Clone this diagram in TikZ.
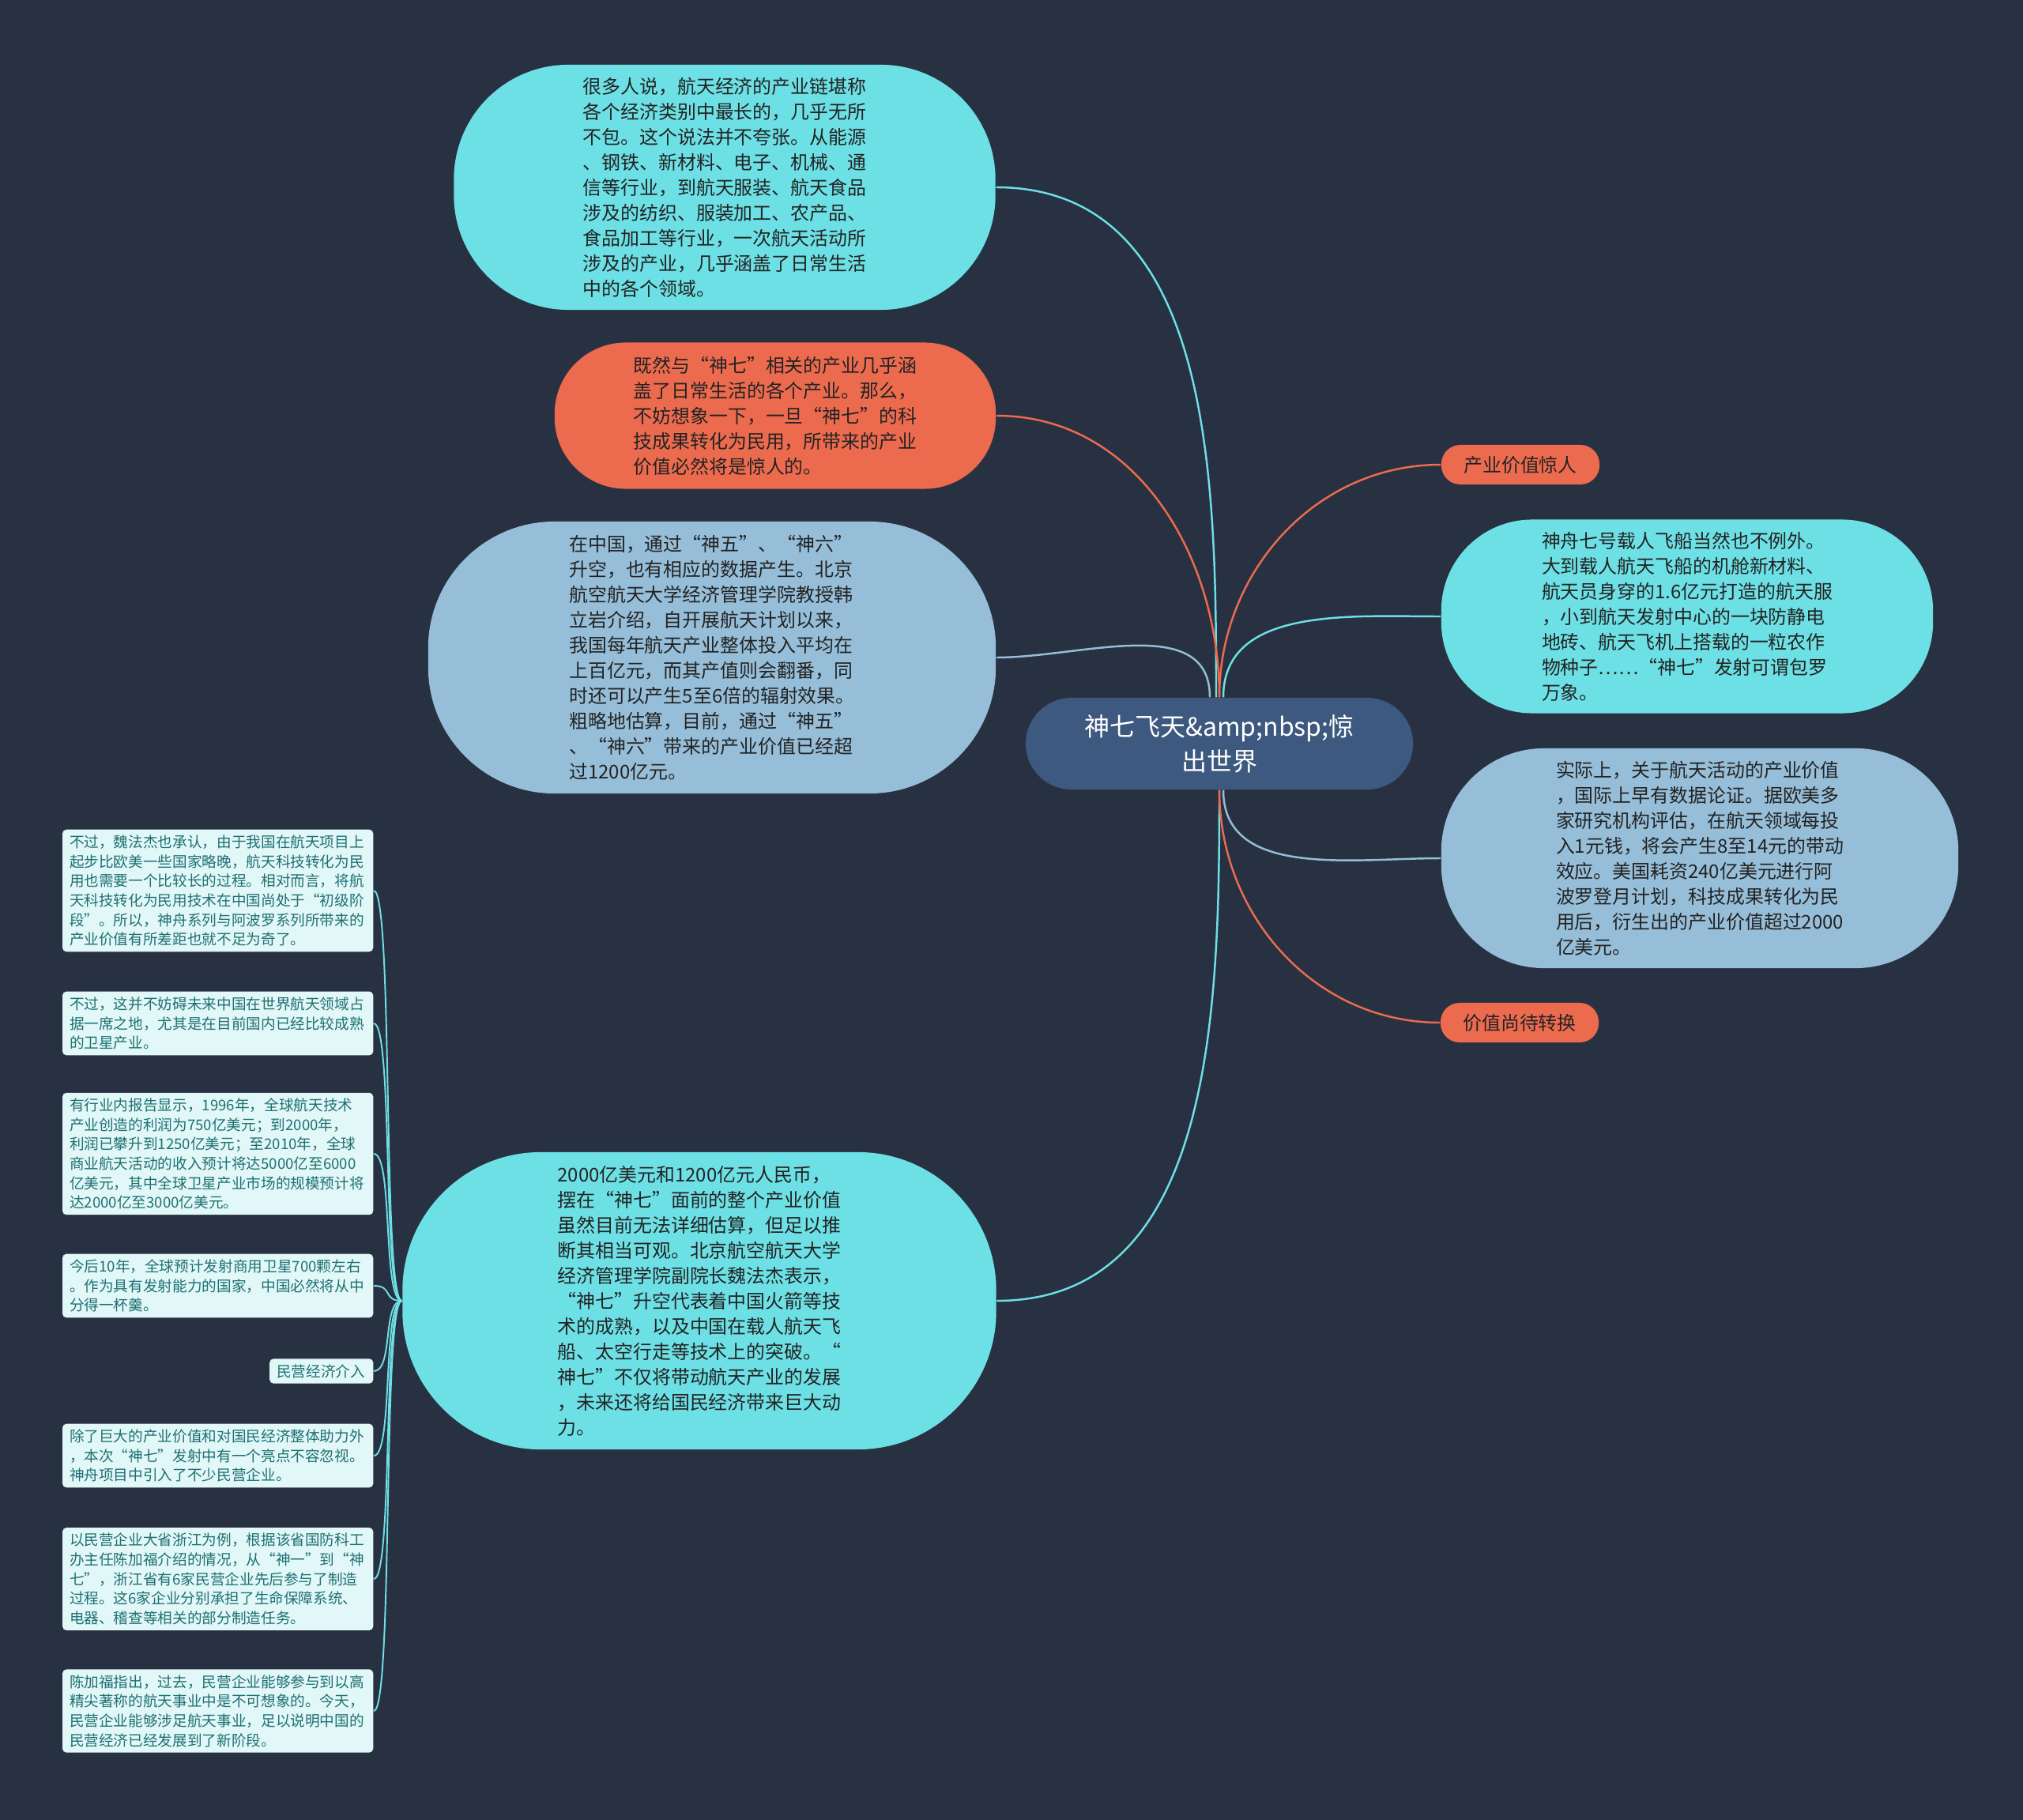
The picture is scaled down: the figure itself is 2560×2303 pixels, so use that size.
\documentclass[tikz,border=0pt]{standalone}
\usepackage{fontspec}
\setmainfont{Noto Sans CJK SC}
\usepackage{tikz}
\usetikzlibrary{positioning}
\definecolor{bg}{RGB}{40,49,65}
\definecolor{cyn}{RGB}{109,224,229}
\definecolor{org}{RGB}{236,107,79}
\definecolor{lblue}{RGB}{150,190,216}
\definecolor{rootc}{RGB}{61,89,127}
\definecolor{leaff}{RGB}{226,247,248}
\definecolor{leaft}{RGB}{30,112,114}
\definecolor{ink}{RGB}{35,35,35}
\tikzset{
  bub/.style={rounded corners=#1,inner sep=0pt,align=left,text=ink,font=\fontsize{6.8pt}{9.1pt}\selectfont},
  tag/.style={fill=org,rounded corners=0.24cm,minimum width=2cm,minimum height=0.5cm,inner sep=0pt,text=ink,font=\fontsize{6.8pt}{9.1pt}\selectfont},
  leaf/.style={fill=leaff,rounded corners=0.05cm,text=leaft,align=left,text width=3.75cm,inner xsep=0.09cm,inner ysep=0.07cm,font=\fontsize{5.3pt}{7pt}\selectfont,anchor=east},
  lnk/.style={line width=0.7pt},
  lf/.style={draw=cyn,line width=0.55pt}
}
\begin{document}
\begin{tikzpicture}[x=0.01cm,y=-0.01cm]
\fill[bg] (0,0) rectangle (2560,2303);
\node[fill=rootc,rounded corners=0.58cm,minimum width=4.9cm,minimum height=1.16cm,inner sep=0pt,text=white,align=center,font=\fontsize{9.1pt}{12.5pt}\selectfont] (root) at (1543,941) {神七飞天\&amp;nbsp;惊\\出世界};
\node[bub=1.45cm,fill=cyn,minimum width=6.85cm,minimum height=3.1cm] (n1) at (917,237) {很多人说，航天经济的产业链堪称\\各个经济类别中最长的，几乎无所\\不包。这个说法并不夸张。从能源\\、钢铁、新材料、电子、机械、通\\信等行业，到航天服装、航天食品\\涉及的纺织、服装加工、农产品、\\食品加工等行业，一次航天活动所\\涉及的产业，几乎涵盖了日常生活\\中的各个领域。};
\node[bub=0.9cm,fill=org,minimum width=5.58cm,minimum height=1.85cm] (n2) at (981,526) {既然与“神七”相关的产业几乎涵\\盖了日常生活的各个产业。那么，\\不妨想象一下，一旦“神七”的科\\技成果转化为民用，所带来的产业\\价值必然将是惊人的。};
\node[bub=1.6cm,fill=lblue,minimum width=7.18cm,minimum height=3.44cm] (n3) at (901,832) {在中国，通过“神五”、“神六”\\升空，也有相应的数据产生。北京\\航空航天大学经济管理学院教授韩\\立岩介绍，自开展航天计划以来，\\我国每年航天产业整体投入平均在\\上百亿元，而其产值则会翻番，同\\时还可以产生5至6倍的辐射效果。\\粗略地估算，目前，通过“神五”\\、“神六”带来的产业价值已经超\\过1200亿元。};
\node[bub=1.75cm,fill=cyn,minimum width=7.51cm,minimum height=3.76cm] (n4) at (885,1646) {2000亿美元和1200亿元人民币，\\摆在“神七”面前的整个产业价值\\虽然目前无法详细估算，但足以推\\断其相当可观。北京航空航天大学\\经济管理学院副院长魏法杰表示，\\“神七”升空代表着中国火箭等技\\术的成熟，以及中国在载人航天飞\\船、太空行走等技术上的突破。“\\神七”不仅将带动航天产业的发展\\，未来还将给国民经济带来巨大动\\力。};
\node[tag] (t1) at (1924,588) {产业价值惊人};
\node[bub=1.15cm,fill=cyn,minimum width=6.22cm,minimum height=2.45cm] (n5) at (2135,780) {神舟七号载人飞船当然也不例外。\\大到载人航天飞船的机舱新材料、\\航天员身穿的1.6亿元打造的航天服\\，小到航天发射中心的一块防静电\\地砖、航天飞机上搭载的一粒农作\\物种子……“神七”发射可谓包罗\\万象。};
\node[bub=1.3cm,fill=lblue,minimum width=6.54cm,minimum height=2.78cm] (n6) at (2151,1086) {实际上，关于航天活动的产业价值\\，国际上早有数据论证。据欧美多\\家研究机构评估，在航天领域每投\\入1元钱，将会产生8至14元的带动\\效应。美国耗资240亿美元进行阿\\波罗登月计划，科技成果转化为民\\用后，衍生出的产业价值超过2000\\亿美元。};
\node[tag] (t2) at (1923,1294) {价值尚待转换};
\node[leaf] (lf1) at (473,1127) {不过，魏法杰也承认，由于我国在航天项目上\\起步比欧美一些国家略晚，航天科技转化为民\\用也需要一个比较长的过程。相对而言，将航\\天科技转化为民用技术在中国尚处于“初级阶\\段”。所以，神舟系列与阿波罗系列所带来的\\产业价值有所差距也就不足为奇了。};
\node[leaf] (lf2) at (473,1295) {不过，这并不妨碍未来中国在世界航天领域占\\据一席之地，尤其是在目前国内已经比较成熟\\的卫星产业。};
\node[leaf] (lf3) at (473,1460) {有行业内报告显示，1996年，全球航天技术\\产业创造的利润为750亿美元；到2000年，\\利润已攀升到1250亿美元；至2010年，全球\\商业航天活动的收入预计将达5000亿至6000\\亿美元，其中全球卫星产业市场的规模预计将\\达2000亿至3000亿美元。};
\node[leaf] (lf4) at (473,1627) {今后10年，全球预计发射商用卫星700颗左右\\。作为具有发射能力的国家，中国必然将从中\\分得一杯羹。};
\node[leaf,text width=1.13cm] (lf5) at (473,1735) {民营经济介入};
\node[leaf] (lf6) at (473,1842) {除了巨大的产业价值和对国民经济整体助力外\\，本次“神七”发射中有一个亮点不容忽视。\\神舟项目中引入了不少民营企业。};
\node[leaf] (lf7) at (473,1998) {以民营企业大省浙江为例，根据该省国防科工\\办主任陈加福介绍的情况，从“神一”到“神\\七”，浙江省有6家民营企业先后参与了制造\\过程。这6家企业分别承担了生命保障系统、\\电器、稽查等相关的部分制造任务。};
\node[leaf] (lf8) at (473,2165) {陈加福指出，过去，民营企业能够参与到以高\\精尖著称的航天事业中是不可想象的。今天，\\民营企业能够涉足航天事业，足以说明中国的\\民营经济已经发展到了新阶段。};
\draw[lnk,cyn] (n1.east) to[out=0,in=90] ([xshift=-0.04cm]root.north);
\draw[lnk,org] (n2.east) to[out=0,in=90] (root.north);
\draw[lnk,lblue] (n3.east) to[out=0,in=90] ([xshift=-0.12cm]root.north);
\draw[lnk,cyn] (n4.east) to[out=0,in=-90] (root.south);
\draw[lnk,org] (root.north) to[out=90,in=180] (t1.west);
\draw[lnk,cyn] ([xshift=0.05cm]root.north) to[out=90,in=180] (n5.west);
\draw[lnk,lblue] ([xshift=0.05cm]root.south) to[out=-90,in=180] (n6.west);
\draw[lnk,org] (root.south) to[out=-90,in=180] (t2.west);
\foreach \k in {1,...,8}
  \draw[lf] (n4.west) .. controls +(-25,0) and +(25,0) .. (lf\k.east);
\end{tikzpicture}
\end{document}
